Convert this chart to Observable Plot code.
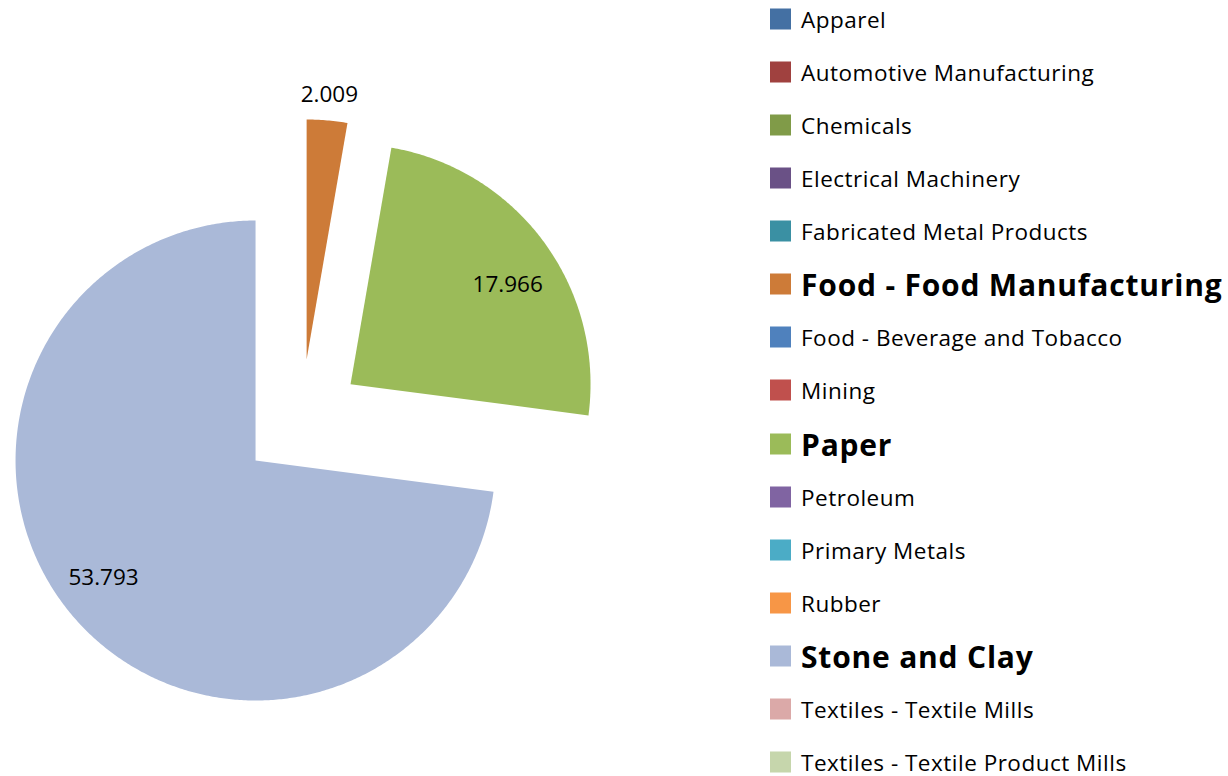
<!DOCTYPE html>
<html><head><meta charset="utf-8">
<script src="https://cdn.jsdelivr.net/npm/d3@7"></script>
<script src="https://cdn.jsdelivr.net/npm/@observablehq/plot@0.6"></script>
<style>
body{margin:0;background:#fff;font-family:"Open Sans",sans-serif;}
#wrap{position:relative;width:1228px;height:776px;overflow:hidden;}
#chart{position:absolute;left:0;top:0;}
#legend{position:absolute;left:770px;top:0;width:458px;height:776px;}
.item{position:absolute;left:0;display:flex;align-items:center;white-space:nowrap;transform:translateY(-50%);color:#000;}
.sw{width:21px;height:21px;margin-right:10px;flex:none;}
.lt{font-size:22.5px;letter-spacing:0.5px;}
.lt.b{font-size:30px;font-weight:700;letter-spacing:0.8px;}
</style>
</head><body>
<div id="wrap"><div id="chart"></div><div id="legend"></div></div>
<script>
// ---- data ----
const categories = [
  "Apparel","Automotive Manufacturing","Chemicals","Electrical Machinery",
  "Fabricated Metal Products","Food - Food Manufacturing","Food - Beverage and Tobacco",
  "Mining","Paper","Petroleum","Primary Metals","Rubber","Stone and Clay",
  "Textiles - Textile Mills","Textiles - Textile Product Mills"
];
const colors = [
  "#4470a3","#a0413f","#809b48","#6a5186","#3a90a3","#cd7b38","#4f81bd",
  "#c0504d","#9bbb59","#8064a2","#4bacc6","#f79646","#aab9d8","#dba9a8","#c6d6ac"
];
const sliceCategories = ["Food - Food Manufacturing","Paper","Stone and Clay"];
const sliceValues = [2.009, 17.966, 53.793];
const sliceLabels = ["2.009","17.966","53.793"];

// ---- layout ----
const W = 760, H = 776;
const C = {x: 300.9, y: 419.8};
const R = 240;
const explode = 61;
const labelRadius = [1.108, 0.775, 0.80];
const labelAngleShift = [0, 4, 3.6]; // degrees

const rows = sliceCategories.map((c, i) => ({cat: c, value: sliceValues[i], label: sliceLabels[i], i}));
const arcs = d3.pie().sort(null).value(d => d.value).startAngle(0).endAngle(2 * Math.PI)(rows);

const pts = [];
const labs = [];
for (const a of arcs) {
  const m = (a.startAngle + a.endAngle) / 2;
  const cx = C.x + explode * Math.sin(m), cy = C.y - explode * Math.cos(m);
  pts.push({cat: a.data.cat, x: cx, y: cy});
  const n = Math.max(4, Math.ceil((a.endAngle - a.startAngle) / (Math.PI / 360)));
  for (let k = 0; k <= n; k++) {
    const t = a.startAngle + (a.endAngle - a.startAngle) * k / n;
    pts.push({cat: a.data.cat, x: cx + R * Math.sin(t), y: cy - R * Math.cos(t)});
  }
  const lm = m + labelAngleShift[a.data.i] * Math.PI / 180;
  const lr = R * labelRadius[a.data.i];
  labs.push({x: cx + lr * Math.sin(lm), y: cy - lr * Math.cos(lm), text: a.data.label});
}

const chart = Plot.plot({
  width: W, height: H, margin: 0,
  x: {domain: [0, W], range: [0, W], axis: null},
  y: {domain: [0, H], range: [0, H], axis: null},
  color: {domain: categories, range: colors},
  style: {fontFamily: "'Open Sans', sans-serif", background: "transparent"},
  marks: [
    Plot.line(pts, {x: "x", y: "y", z: "cat", fill: "cat", stroke: "none", curve: "linear-closed"}),
    Plot.text(labs, {x: "x", y: "y", text: "text", fontSize: 22.5, fill: "#000"})
  ]
});
document.getElementById("chart").appendChild(chart);

// legend
const leg = document.getElementById("legend");
categories.forEach((c, i) => {
  const it = document.createElement("div");
  it.className = "item";
  it.style.top = (19 + i * 53.07) + "px";
  const sw = document.createElement("div");
  sw.className = "sw";
  sw.style.background = colors[i];
  const t = document.createElement("span");
  t.className = "lt" + (sliceCategories.includes(c) ? " b" : "");
  t.textContent = c;
  it.appendChild(sw); it.appendChild(t);
  leg.appendChild(it);
});
</script>
</body></html>
